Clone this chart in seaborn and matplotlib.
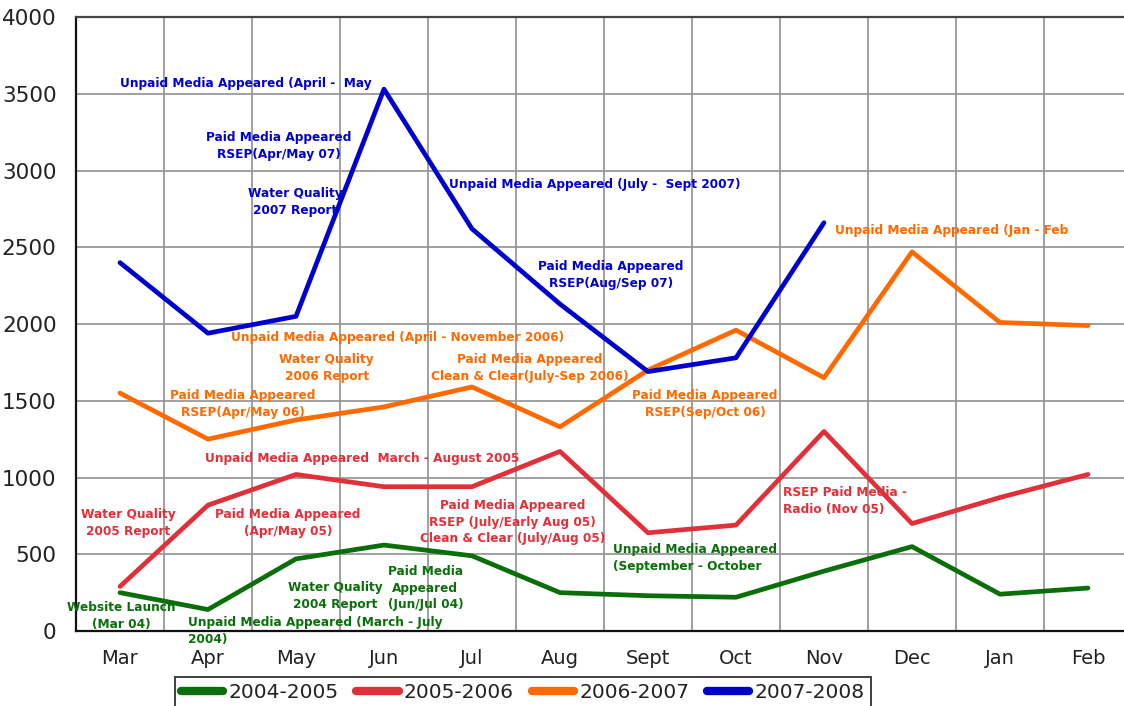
import pandas as pd
import numpy as np
import seaborn as sns
from matplotlib import pyplot as plt
from matplotlib.ticker import FixedLocator

# ===== data =====
months = ['Mar', 'Apr', 'May', 'Jun', 'Jul', 'Aug', 'Sept', 'Oct', 'Nov', 'Dec', 'Jan', 'Feb']
seasons = ['2004-2005', '2005-2006', '2006-2007', '2007-2008']

hits_0405 = [250, 140, 470, 560, 490, 250, 230, 220, 390, 550, 240, 280]
hits_0506 = [290, 820, 1020, 940, 940, 1170, 640, 690, 1300, 700, 870, 1020]
hits_0607 = [1550, 1250, 1375, 1460, 1590, 1330, 1700, 1960, 1650, 2470, 2010, 1990]
hits_0708 = [2400, 1940, 2050, 3530, 2620, 2130, 1690, 1780, 2660]  # no data Dec - Feb

season_colors = ['#0a6e0a', '#e0303a', '#ff6a00', '#0000cc']

# annotations: (text, x position in months, y value, season colour index, alignment)
notes = [
    ('Unpaid Media Appeared (April -  May', 0.0, 3570, 3, 'left'),
    ('Paid Media Appeared\nRSEP(Apr/May 07)', 1.80, 3160, 3, 'center'),
    ('Water Quality\n2007 Report', 1.99, 2795, 3, 'center'),
    ('Unpaid Media Appeared (July -  Sept 2007)', 5.40, 2906, 3, 'center'),
    ('Paid Media Appeared\nRSEP(Aug/Sep 07)', 5.58, 2319, 3, 'center'),
    ('Unpaid Media Appeared (Jan - Feb', 8.125, 2606, 2, 'left'),
    ('Unpaid Media Appeared (April - November 2006)', 3.15, 1909, 2, 'center'),
    ('Water Quality\n2006 Report', 2.35, 1713, 2, 'center'),
    ('Paid Media Appeared\nClean & Clear(July-Sep 2006)', 4.66, 1713, 2, 'center'),
    ('Paid Media Appeared\nRSEP(Apr/May 06)', 1.40, 1479, 2, 'center'),
    ('Paid Media Appeared\nRSEP(Sep/Oct 06)', 6.65, 1479, 2, 'center'),
    ('Unpaid Media Appeared  March - August 2005', 2.75, 1127, 1, 'center'),
    ('Water Quality\n2005 Report', 0.09, 703, 1, 'center'),
    ('Paid Media Appeared\n(Apr/May 05)', 1.91, 703, 1, 'center'),
    ('Paid Media Appeared\nRSEP (July/Early Aug 05)\nClean & Clear (July/Aug 05)', 4.46, 710, 1, 'center'),
    ('RSEP Paid Media -\nRadio (Nov 05)', 7.53, 847, 1, 'left'),
    ('Website Launch\n(Mar 04)', 0.02, 98, 0, 'center'),
    ('Unpaid Media Appeared (March - July\n2004)', 0.77, 0, 0, 'left'),
    ('Water Quality\n2004 Report', 2.45, 228, 0, 'center'),
    ('Paid Media\nAppeared\n(Jun/Jul 04)', 3.47, 280, 0, 'center'),
    ('Unpaid Media Appeared\n(September - October', 5.60, 475, 0, 'left'),
]

# ===== long form frame for seaborn =====
rows = []
for season, vals in zip(seasons, [hits_0405, hits_0506, hits_0607, hits_0708]):
    for i, v in enumerate(vals):
        rows.append({'month': months[i], 'pos': i, 'hits': v, 'season': season})
df = pd.DataFrame(rows)

sns.set_style('white')
plt.rcParams['font.family'] = ['DejaVu Sans']

fig = plt.figure(figsize=(11.24, 7.06), dpi=100)
ax = fig.add_axes([0.0676, 0.1062, 0.9395, 0.8697])

sns.lineplot(data=df, x='pos', y='hits', hue='season', hue_order=seasons,
             palette=season_colors, linewidth=3.4, ax=ax, legend=False, sort=False)

ax.set_xlim(-0.5, len(months) - 0.5)
ax.set_ylim(0, 4000)
ax.set_xlabel('')
ax.set_ylabel('')

# month labels in the middle, ticks + grid on the boundaries
ax.xaxis.set_major_locator(FixedLocator(np.arange(len(months))))
ax.set_xticklabels(months, fontsize=14, color='#222222')
ax.xaxis.set_minor_locator(FixedLocator(np.arange(len(months) + 1) - 0.5))
ax.tick_params(axis='x', which='major', length=0, pad=13)
ax.tick_params(axis='x', which='minor', length=6, width=1.2, color='#222222', direction='out')

ax.set_yticks(np.arange(0, 4001, 500))
ax.tick_params(axis='y', length=8, width=1.2, color='#222222', direction='out', pad=6,
               labelsize=15.5, labelcolor='#222222')

ax.grid(False)
ax.grid(True, axis='x', which='minor', color='#999999', linewidth=1.3)
ax.grid(True, axis='y', which='major', color='#999999', linewidth=1.3)
ax.set_axisbelow(True)

for side in ['left', 'bottom']:
    ax.spines[side].set_color('#111111')
    ax.spines[side].set_linewidth(1.6)
ax.spines['top'].set_color('#444444')
ax.spines['top'].set_linewidth(1.6)
ax.spines['right'].set_visible(False)

for text, x, y, ci, ha in notes:
    ax.text(x, y, text, color=season_colors[ci], fontsize=8.7, fontweight='bold',
            ha=ha, va='center', multialignment=ha if ha == 'left' else 'center',
            linespacing=1.35, zorder=5)

handles = [plt.Line2D([], [], color=c, linewidth=6) for c in season_colors]
leg = fig.legend(handles, seasons, loc='upper center', bbox_to_anchor=(0.465, 0.041),
                 ncol=4, fontsize=14.5, frameon=True, fancybox=False, edgecolor='#111111',
                 handlelength=2.1, handletextpad=0.25, columnspacing=0.9,
                 borderpad=0.3, borderaxespad=0)
leg.get_frame().set_linewidth(1.4)
for t in leg.get_texts():
    t.set_color('#222222')

plt.savefig('out.png', dpi=100)
plt.close()
